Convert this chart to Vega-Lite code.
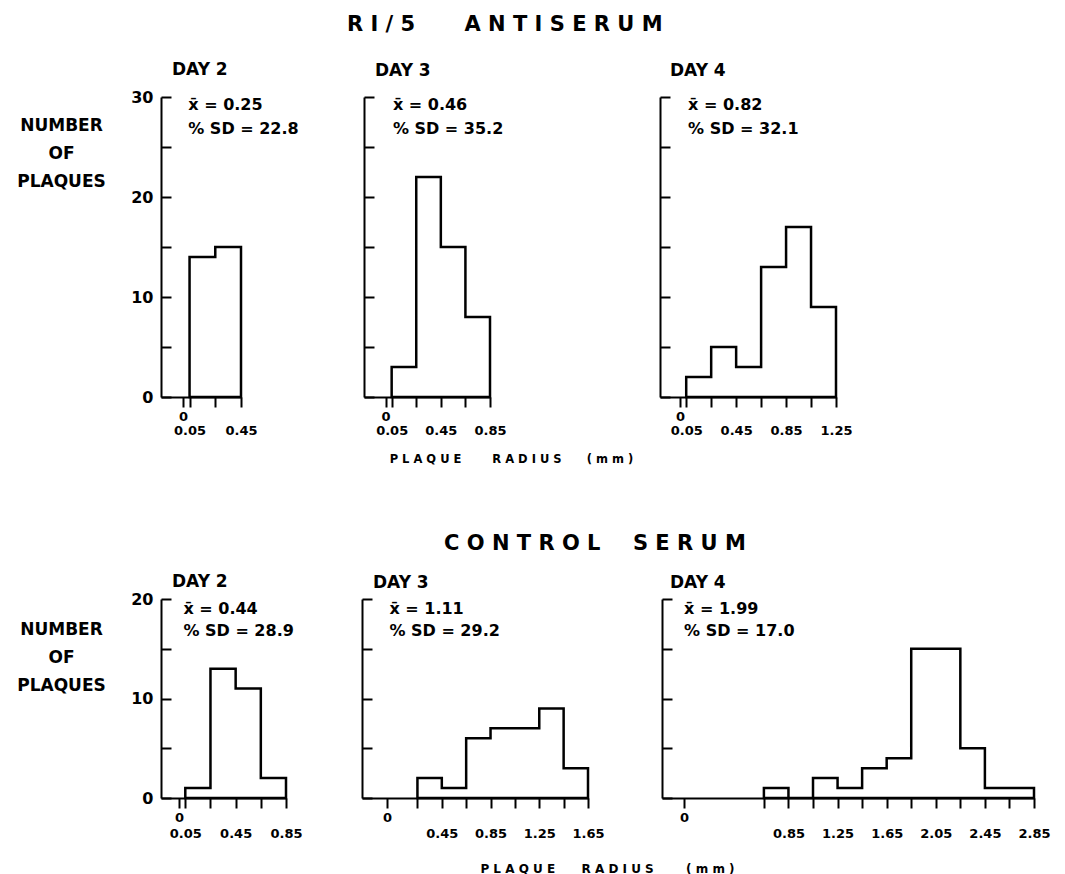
{
  "$schema": "https://vega.github.io/schema/vega-lite/v6.json",
  "padding": {"left": 16, "top": 14, "right": 0, "bottom": 0},
  "background": "white",
  "datasets": {
    "hist": [
      {"serum": "RI", "day": 2, "lo": 0.05, "hi": 0.25, "n": 14},
      {"serum": "RI", "day": 2, "lo": 0.25, "hi": 0.45, "n": 15},
      {"serum": "RI", "day": 3, "lo": 0.05, "hi": 0.25, "n": 3},
      {"serum": "RI", "day": 3, "lo": 0.25, "hi": 0.45, "n": 22},
      {"serum": "RI", "day": 3, "lo": 0.45, "hi": 0.65, "n": 15},
      {"serum": "RI", "day": 3, "lo": 0.65, "hi": 0.85, "n": 8},
      {"serum": "RI", "day": 4, "lo": 0.05, "hi": 0.25, "n": 2},
      {"serum": "RI", "day": 4, "lo": 0.25, "hi": 0.45, "n": 5},
      {"serum": "RI", "day": 4, "lo": 0.45, "hi": 0.65, "n": 3},
      {"serum": "RI", "day": 4, "lo": 0.65, "hi": 0.85, "n": 13},
      {"serum": "RI", "day": 4, "lo": 0.85, "hi": 1.05, "n": 17},
      {"serum": "RI", "day": 4, "lo": 1.05, "hi": 1.25, "n": 9},
      {"serum": "C", "day": 2, "lo": 0.05, "hi": 0.25, "n": 1},
      {"serum": "C", "day": 2, "lo": 0.25, "hi": 0.45, "n": 13},
      {"serum": "C", "day": 2, "lo": 0.45, "hi": 0.65, "n": 11},
      {"serum": "C", "day": 2, "lo": 0.65, "hi": 0.85, "n": 2},
      {"serum": "C", "day": 3, "lo": 0.25, "hi": 0.45, "n": 2},
      {"serum": "C", "day": 3, "lo": 0.45, "hi": 0.65, "n": 1},
      {"serum": "C", "day": 3, "lo": 0.65, "hi": 0.85, "n": 6},
      {"serum": "C", "day": 3, "lo": 0.85, "hi": 1.05, "n": 7},
      {"serum": "C", "day": 3, "lo": 1.05, "hi": 1.25, "n": 7},
      {"serum": "C", "day": 3, "lo": 1.25, "hi": 1.45, "n": 9},
      {"serum": "C", "day": 3, "lo": 1.45, "hi": 1.65, "n": 3},
      {"serum": "C", "day": 4, "lo": 0.65, "hi": 0.85, "n": 1},
      {"serum": "C", "day": 4, "lo": 0.85, "hi": 1.05, "n": 0},
      {"serum": "C", "day": 4, "lo": 1.05, "hi": 1.25, "n": 2},
      {"serum": "C", "day": 4, "lo": 1.25, "hi": 1.45, "n": 1},
      {"serum": "C", "day": 4, "lo": 1.45, "hi": 1.65, "n": 3},
      {"serum": "C", "day": 4, "lo": 1.65, "hi": 1.85, "n": 4},
      {"serum": "C", "day": 4, "lo": 1.85, "hi": 2.05, "n": 15},
      {"serum": "C", "day": 4, "lo": 2.05, "hi": 2.25, "n": 15},
      {"serum": "C", "day": 4, "lo": 2.25, "hi": 2.45, "n": 5},
      {"serum": "C", "day": 4, "lo": 2.45, "hi": 2.65, "n": 1},
      {"serum": "C", "day": 4, "lo": 2.65, "hi": 2.85, "n": 1}
    ],
    "stats": [
      {"serum": "RI", "day": 2, "stat": ["x\u0304 = 0.25", "% SD = 22.8"]},
      {"serum": "RI", "day": 3, "stat": ["x\u0304 =  0.46", "% SD = 35.2"]},
      {"serum": "RI", "day": 4, "stat": ["x\u0304 =  0.82", "% SD = 32.1"]},
      {"serum": "C", "day": 2, "stat": ["x\u0304 = 0.44", "% SD = 28.9"]},
      {"serum": "C", "day": 3, "stat": ["x\u0304 =  1.11", "% SD = 29.2"]},
      {"serum": "C", "day": 4, "stat": ["x\u0304 =  1.99", "% SD = 17.0"]}
    ]
  },
  "config": {
    "font": "DejaVu Sans",
    "view": {"stroke": null},
    "axis": {
      "domainColor": "black", "domainWidth": 2, "tickColor": "black", "tickWidth": 2,
      "labelColor": "black", "labelFont": "DejaVu Sans", "labelFontWeight": "bold",
      "titleColor": "black", "titleFont": "DejaVu Sans", "titleFontWeight": "bold",
      "grid": false, "labelFlush": false, "labelOverlap": false, "tickCount": 100
    },
    "axisX": {"tickSize": 10, "labelFontSize": 13, "labelBaseline": "top", "labelOverlap": false,
      "labelExpr": "datum.value === 0 ? '0' : (round(datum.value * 100) % 40 === 5 ? format(datum.value, '.2f') : '')"},
    "axisY": {"tickSize": -10, "labelFontSize": 16, "labelPadding": 18, "labelBaseline": "middle",
      "labelExpr": "datum.value % 10 === 0 ? format(datum.value, 'd') : ''"},
    "title": {"color": "black", "font": "DejaVu Sans", "fontWeight": "bold"}
  },
  "spacing": 68,
  "vconcat": [
    {
      "title": {"text": "R I / 5 \u2003\u2003A N T I S E R U M", "anchor": "start", "frame": "group", "dx": 186, "fontSize": 21, "baseline": "alphabetic", "offset": 9},
      "bounds": "flush",
      "spacing": 123,
      "hconcat": [
        {
          "width": 80, "height": 300,
          "title": {"text": "DAY 2", "anchor": "start", "frame": "group", "dx": 11, "fontSize": 17, "baseline": "alphabetic", "offset": -3},
          "layer": [
            {
              "data": {"name": "hist"},
              "transform": [{"filter": "datum.serum === 'RI' && datum.day === 2"}, {"fold": ["lo", "hi"], "as": ["side", "radius"]}],
              "mark": {"type": "area", "fillOpacity": 0, "stroke": "black", "strokeWidth": 2.5, "strokeJoin": "miter"},
              "encoding": {
                "x": {"field": "radius", "type": "quantitative", "scale": {"domain": [-0.172, 0.45], "nice": false, "zero": false},
                  "axis": {"values": [0, 0.05, 0.25, 0.45], "tickCount": 100, "title": null, "labelOverlap": false,
                    "labelPadding": {"condition": {"test": "datum.value === 0", "value": 3}, "value": 17}}},
                "y": {"field": "n", "type": "quantitative", "stack": null, "scale": {"domain": [0, 30], "nice": false},
                  "axis": {"values": [0, 5, 10, 15, 20, 25, 30], "tickCount": 100, "title": ["NUMBER", "OF", "PLAQUES"], "titleAngle": 0, "titleAlign": "center", "titleBaseline": "top", "titleX": -100, "titleY": 20, "titleFontSize": 17, "titleLineHeight": 28}},
                "order": {"value": null}
              }
            },
            {
              "data": {"name": "stats"},
              "transform": [{"filter": "datum.serum === 'RI' && datum.day === 2"}],
              "mark": {"type": "text", "align": "left", "baseline": "top", "fontSize": 16, "fontWeight": "bold", "lineHeight": 24, "color": "black"},
              "encoding": {"x": {"datum": 0.04}, "y": {"datum": 30}, "text": {"field": "stat"}}
            }
          ]
        },
        {
          "bounds": "flush",
          "spacing": 170,
          "hconcat": [
            {
              "width": 126, "height": 300,
              "title": {"text": "DAY 3", "anchor": "start", "frame": "group", "dx": 11, "fontSize": 17, "baseline": "alphabetic", "offset": 3},
              "layer": [
                {
                  "data": {"name": "hist"},
                  "transform": [{"filter": "datum.serum === 'RI' && datum.day === 3"}, {"fold": ["lo", "hi"], "as": ["side", "radius"]}],
                  "mark": {"type": "area", "fillOpacity": 0, "stroke": "black", "strokeWidth": 2.5, "strokeJoin": "miter"},
                  "encoding": {
                    "x": {"field": "radius", "type": "quantitative", "scale": {"domain": [-0.175, 0.85], "nice": false, "zero": false},
                      "axis": {"values": [0, 0.05, 0.25, 0.45, 0.65, 0.85], "tickCount": 100, "labelOverlap": false,
                        "labelPadding": {"condition": {"test": "datum.value === 0", "value": 3}, "value": 17},
                        "title": "P L A Q U E \u2003\u2003 R A D I U S \u2003\u2002 ( m m )", "titleFontSize": 11.5, "titleAngle": 0, "titleAlign": "center", "titleBaseline": "alphabetic", "titleX": 147, "titleY": 65}},
                    "y": {"field": "n", "type": "quantitative", "stack": null, "scale": {"domain": [0, 30], "nice": false},
                      "axis": {"values": [0, 5, 10, 15, 20, 25, 30], "tickCount": 100, "labels": false, "title": null}},
                    "order": {"value": null}
                  }
                },
                {
                  "data": {"name": "stats"},
                  "transform": [{"filter": "datum.serum === 'RI' && datum.day === 3"}],
                  "mark": {"type": "text", "align": "left", "baseline": "top", "fontSize": 16, "fontWeight": "bold", "lineHeight": 24, "color": "black"},
                  "encoding": {"x": {"datum": 0.06}, "y": {"datum": 30}, "text": {"field": "stat"}}
                }
              ]
            },
            {
              "width": 176, "height": 300,
              "title": {"text": "DAY 4", "anchor": "start", "frame": "group", "dx": 10, "fontSize": 17, "baseline": "alphabetic", "offset": 3},
              "layer": [
                {
                  "data": {"name": "hist"},
                  "transform": [{"filter": "datum.serum === 'RI' && datum.day === 4"}, {"fold": ["lo", "hi"], "as": ["side", "radius"]}],
                  "mark": {"type": "area", "fillOpacity": 0, "stroke": "black", "strokeWidth": 2.5, "strokeJoin": "miter"},
                  "encoding": {
                    "x": {"field": "radius", "type": "quantitative", "scale": {"domain": [-0.16, 1.25], "nice": false, "zero": false},
                      "axis": {"values": [0, 0.05, 0.25, 0.45, 0.65, 0.85, 1.05, 1.25], "tickCount": 100, "labelOverlap": false,
                        "labelPadding": {"condition": {"test": "datum.value === 0", "value": 3}, "value": 17},
                        "title": null}},
                    "y": {"field": "n", "type": "quantitative", "stack": null, "scale": {"domain": [0, 30], "nice": false},
                      "axis": {"values": [0, 5, 10, 15, 20, 25, 30], "tickCount": 100, "labels": false, "title": null}},
                    "order": {"value": null}
                  }
                },
                {
                  "data": {"name": "stats"},
                  "transform": [{"filter": "datum.serum === 'RI' && datum.day === 4"}],
                  "mark": {"type": "text", "align": "left", "baseline": "top", "fontSize": 16, "fontWeight": "bold", "lineHeight": 24, "color": "black"},
                  "encoding": {"x": {"datum": 0.065}, "y": {"datum": 30}, "text": {"field": "stat"}}
                }
              ]
            }
          ]
        }
      ]
    },
    {
      "title": {"text": "C O N T R O L \u2003\u2009S E R U M", "anchor": "start", "frame": "group", "dx": 283, "fontSize": 21, "baseline": "alphabetic", "offset": 2},
      "bounds": "flush",
      "spacing": 76,
      "hconcat": [
        {
          "width": 125, "height": 199,
          "title": {"text": "DAY 2", "anchor": "start", "frame": "group", "dx": 11, "fontSize": 17, "baseline": "alphabetic", "offset": -13},
          "layer": [
            {
              "data": {"name": "hist"},
              "transform": [{"filter": "datum.serum === 'C' && datum.day === 2"}, {"fold": ["lo", "hi"], "as": ["side", "radius"]}],
              "mark": {"type": "area", "fillOpacity": 0, "stroke": "black", "strokeWidth": 2.5, "strokeJoin": "miter"},
              "encoding": {
                "x": {"field": "radius", "type": "quantitative", "scale": {"domain": [-0.143, 0.85], "nice": false, "zero": false},
                  "axis": {"values": [0, 0.05, 0.25, 0.45, 0.65, 0.85], "tickCount": 100, "title": null, "labelOverlap": false,
                    "labelPadding": {"condition": {"test": "datum.value === 0", "value": 3}, "value": 19}}},
                "y": {"field": "n", "type": "quantitative", "stack": null, "scale": {"domain": [0, 20], "nice": false},
                  "axis": {"values": [0, 5, 10, 15, 20], "tickCount": 100, "title": ["NUMBER", "OF", "PLAQUES"], "titleAngle": 0, "titleAlign": "center", "titleBaseline": "top", "titleX": -100, "titleY": 22, "titleFontSize": 17, "titleLineHeight": 28}},
                "order": {"value": null}
              }
            },
            {
              "data": {"name": "stats"},
              "transform": [{"filter": "datum.serum === 'C' && datum.day === 2"}],
              "mark": {"type": "text", "align": "left", "baseline": "top", "fontSize": 16, "fontWeight": "bold", "lineHeight": 22, "dy": 2, "color": "black"},
              "encoding": {"x": {"datum": 0.035}, "y": {"datum": 20}, "text": {"field": "stat"}}
            }
          ]
        },
        {
          "bounds": "flush",
          "spacing": 74,
          "hconcat": [
            {
              "width": 226, "height": 199,
              "title": {"text": "DAY 3", "anchor": "start", "frame": "group", "dx": 11, "fontSize": 17, "baseline": "alphabetic", "offset": -7},
              "layer": [
                {
                  "data": {"name": "hist"},
                  "transform": [{"filter": "datum.serum === 'C' && datum.day === 3"}, {"fold": ["lo", "hi"], "as": ["side", "radius"]}],
                  "mark": {"type": "area", "fillOpacity": 0, "stroke": "black", "strokeWidth": 2.5, "strokeJoin": "miter"},
                  "encoding": {
                    "x": {"field": "radius", "type": "quantitative", "scale": {"domain": [-0.205, 1.65], "nice": false, "zero": false},
                      "axis": {"values": [0, 0.25, 0.45, 0.65, 0.85, 1.05, 1.25, 1.45, 1.65], "tickCount": 100, "labelOverlap": false,
                        "labelPadding": {"condition": {"test": "datum.value === 0", "value": 3}, "value": 19},
                        "title": "P L A Q U E \u2003\u2002 R A D I U S \u2003\u2003 ( m m )", "titleFontSize": 12, "titleAngle": 0, "titleAlign": "center", "titleBaseline": "alphabetic", "titleX": 245, "titleY": 74}},
                    "y": {"field": "n", "type": "quantitative", "stack": null, "scale": {"domain": [0, 20], "nice": false},
                      "axis": {"values": [0, 5, 10, 15, 20], "tickCount": 100, "labels": false, "title": null}},
                    "order": {"value": null}
                  }
                },
                {
                  "data": {"name": "stats"},
                  "transform": [{"filter": "datum.serum === 'C' && datum.day === 3"}],
                  "mark": {"type": "text", "align": "left", "baseline": "top", "fontSize": 16, "fontWeight": "bold", "lineHeight": 22, "dy": 2, "color": "black"},
                  "encoding": {"x": {"datum": 0.02}, "y": {"datum": 20}, "text": {"field": "stat"}}
                }
              ]
            },
            {
              "width": 372, "height": 199,
              "title": {"text": "DAY 4", "anchor": "start", "frame": "group", "dx": 8, "fontSize": 17, "baseline": "alphabetic", "offset": -7},
              "layer": [
                {
                  "data": {"name": "hist"},
                  "transform": [{"filter": "datum.serum === 'C' && datum.day === 4"}, {"fold": ["lo", "hi"], "as": ["side", "radius"]}],
                  "mark": {"type": "area", "fillOpacity": 0, "stroke": "black", "strokeWidth": 2.5, "strokeJoin": "miter"},
                  "encoding": {
                    "x": {"field": "radius", "type": "quantitative", "scale": {"domain": [-0.18, 2.85], "nice": false, "zero": false},
                      "axis": {"values": [0, 0.65, 0.85, 1.05, 1.25, 1.45, 1.65, 1.85, 2.05, 2.25, 2.45, 2.65, 2.85], "tickCount": 100, "labelOverlap": false,
                        "labelPadding": {"condition": {"test": "datum.value === 0", "value": 3}, "value": 19},
                        "title": null}},
                    "y": {"field": "n", "type": "quantitative", "stack": null, "scale": {"domain": [0, 20], "nice": false},
                      "axis": {"values": [0, 5, 10, 15, 20], "tickCount": 100, "labels": false, "title": null}},
                    "order": {"value": null}
                  }
                },
                {
                  "data": {"name": "stats"},
                  "transform": [{"filter": "datum.serum === 'C' && datum.day === 4"}],
                  "mark": {"type": "text", "align": "left", "baseline": "top", "fontSize": 16, "fontWeight": "bold", "lineHeight": 22, "dy": 2, "color": "black"},
                  "encoding": {"x": {"datum": 0.0}, "y": {"datum": 20}, "text": {"field": "stat"}}
                }
              ]
            }
          ]
        }
      ]
    }
  ]
}
